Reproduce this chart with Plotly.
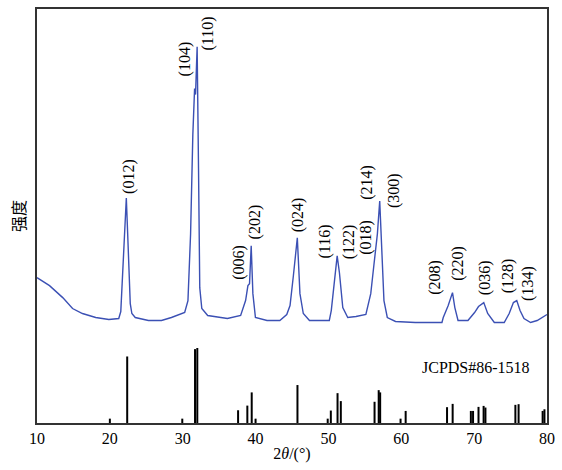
import plotly.graph_objects as go

# Measured XRD pattern (2theta in degrees, intensity a.u.)
two_theta = [10.00, 11.72, 13.53, 14.88, 16.24, 18.06, 19.86, 21.22, 21.50, 21.80, 22.05, 22.26,
             22.42, 22.58, 22.80, 23.02, 23.49, 25.29, 27.09, 28.45, 30.27, 30.72, 31.08, 31.39,
             31.63, 31.76, 31.98, 32.17, 32.34, 32.62, 33.43, 36.14, 37.95, 38.63, 38.95, 39.17,
             39.40, 39.63, 39.98, 41.57, 43.33, 44.28, 44.73, 45.19, 45.54, 45.73, 46.09, 46.55,
             47.40, 50.12, 50.39, 50.84, 51.20, 51.51, 51.97, 52.65, 53.78, 55.14, 55.81, 56.26,
             56.72, 57.04, 57.31, 57.62, 58.08, 59.21, 61.92, 65.58, 65.76, 66.44, 67.03, 67.35,
             67.79, 69.15, 70.06, 70.60, 71.32, 71.86, 72.77, 74.13, 74.81, 75.39, 75.85, 76.30,
             76.84, 77.75, 78.65, 79.79, 80.00]
intensity = [1460, 1380, 1260, 1150, 1100, 1060, 1040, 1050, 1120, 1560, 1900, 2260,
             1950, 1560, 1200, 1100, 1060, 1030, 1030, 1060, 1110, 1230, 1900, 2900,
             3360, 3300, 3780, 2560, 1360, 1150, 1080, 1050, 1080, 1230, 1380, 1400,
             1780, 1300, 1060, 1030, 1030, 1090, 1180, 1480, 1780, 1860, 1300, 1100,
             1030, 1030, 1130, 1430, 1680, 1510, 1160, 1060, 1070, 1090, 1300, 1600,
             1900, 2230, 1830, 1230, 1060, 1020, 1010, 1010, 1060, 1180, 1310, 1160,
             1030, 1030, 1110, 1170, 1210, 1100, 1010, 1010, 1100, 1210, 1230, 1130,
             1050, 1010, 1030, 1080, 1090]

# Reference pattern JCPDS#86-1518 (2theta, relative intensity)
ref_pos = [20.0, 22.38, 29.94, 31.69, 32.0, 37.6, 38.87, 39.47, 40.0, 45.75, 49.9, 50.33,
           51.25, 51.7, 56.33, 56.9, 57.1, 59.9, 60.6, 66.28, 67.05, 69.55, 69.85, 70.6,
           71.3, 71.55, 75.66, 76.1, 79.4, 79.65]
ref_int = [5.8, 88.7, 5.8, 98.5, 100, 17, 23.2, 40.8, 5.8, 50.6, 5.8, 16.6,
           39.8, 29.2, 28.3, 43.8, 40.8, 5.8, 16.1, 21.1, 25.5, 16.1, 16.1, 21.5,
           22.8, 20.6, 24.2, 25.1, 16.1, 18.3]

# Peak labels (hkl), label positions (2theta, intensity)
hkl_labels = ["(012)", "(104)", "(110)", "(006)", "(202)", "(024)", "(116)", "(122)", "(018)",
              "(214)", "(300)", "(208)", "(220)", "(036)", "(128)", "(134)"]
hkl_x = [22.59, 30.27, 33.43, 37.73, 39.98, 45.87, 49.48, 52.87, 55.14, 55.37, 58.98,
         64.63, 67.79, 71.42, 74.58, 77.29]
hkl_y = [2480, 3660, 3910, 1610, 2020, 2090, 1820, 1820, 1870, 2420, 2340,
         1460, 1600, 1460, 1480, 1400]

x_ticks = [10, 20, 30, 40, 50, 60, 70, 80]

serif = "Liberation Serif"

fig = go.Figure()
fig.add_trace(go.Scatter(x=two_theta, y=intensity, mode="lines",
                         line=dict(color="#3b50b4", width=1.4), showlegend=False))

sx, sy = [], []
for p, h in zip(ref_pos, ref_int):
    sx += [p, p, None]
    sy += [0, h, None]
fig.add_trace(go.Scatter(x=sx, y=sy, mode="lines", yaxis="y2",
                         line=dict(color="black", width=2), showlegend=False))

annotations = []
for t, xx, yy in zip(hkl_labels, hkl_x, hkl_y):
    annotations.append(dict(x=xx, y=yy, xref="x", yref="y", text=t, textangle=-90,
                            showarrow=False, xanchor="center", yanchor="middle",
                            font=dict(family=serif, size=16, color="black")))
annotations.append(dict(x=70.2, y=560, xref="x", yref="y", text="JCPDS#86-1518",
                        showarrow=False, xanchor="center", yanchor="middle",
                        font=dict(family=serif, size=16, color="black")))

fig.update_layout(
    autosize=True,
    margin=dict(l=37, r=9, t=7, b=47, pad=0),
    paper_bgcolor="white", plot_bgcolor="white",
    annotations=annotations,
    xaxis=dict(range=[10, 80], tickvals=x_ticks, ticks="", showgrid=False, zeroline=False,
               showline=True, linecolor="#333333", linewidth=1.5, mirror=True,
               tickfont=dict(family=serif, size=16, color="black"),
               title=dict(text="2<i>θ</i>/(°)", standoff=2,
                          font=dict(family=serif, size=16, color="black"))),
    yaxis=dict(range=[0, 4160], showticklabels=False, ticks="", showgrid=False, zeroline=False,
               showline=True, linecolor="#333333", linewidth=1.5, mirror=True,
               title=dict(text="强度", standoff=6,
                          font=dict(family="Noto Sans CJK SC", size=16, color="black"))),
    yaxis2=dict(range=[0, 552], overlaying="y", visible=False),
)

# the figure fills the browser window (562x470) with no page margin
fig.write_html("out.html",
               config={"displayModeBar": False},
               default_width="100vw", default_height="100vh",
               post_script=("document.body.style.margin='0';"
                            "document.documentElement.style.overflow='hidden';"
                            "Plotly.Plots.resize(document.getElementById('{plot_id}'));"))
